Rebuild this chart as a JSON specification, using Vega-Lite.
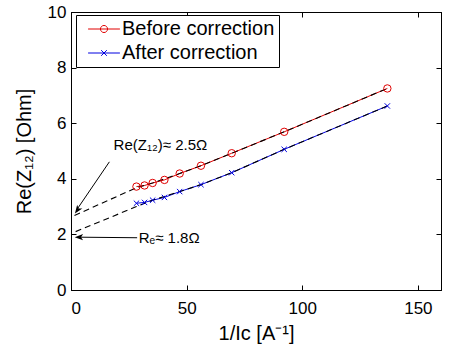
{
  "$schema": "https://vega.github.io/schema/vega-lite/v6.json",
  "autosize": "none",
  "width": 370,
  "height": 278,
  "padding": {"left": 71, "top": 12, "right": 15, "bottom": 57},
  "background": "white",
  "config": {
    "view": {"stroke": "black", "strokeWidth": 1},
    "font": "Liberation Sans",
    "axis": {
      "grid": false,
      "domainColor": "black",
      "tickColor": "black",
      "tickSize": -5,
      "labelFont": "Liberation Sans",
      "labelFontSize": 17,
      "labelColor": "black",
      "titleFont": "Liberation Sans",
      "titleFontSize": 20,
      "titleFontWeight": "normal",
      "titleColor": "black"
    },
    "legend": {
      "labelFont": "Liberation Sans",
      "labelFontSize": 20,
      "labelColor": "black",
      "labelLimit": 400
    }
  },
  "datasets": {
    "meas": [
      {"x": 28.3, "y": 3.72, "series": "Before correction"},
      {"x": 31.8, "y": 3.76, "series": "Before correction"},
      {"x": 35.3, "y": 3.85, "series": "Before correction"},
      {"x": 40.4, "y": 3.96, "series": "Before correction"},
      {"x": 47.0, "y": 4.19, "series": "Before correction"},
      {"x": 56.2, "y": 4.47, "series": "Before correction"},
      {"x": 69.5, "y": 4.92, "series": "Before correction"},
      {"x": 92.2, "y": 5.69, "series": "Before correction"},
      {"x": 136.8, "y": 7.25, "series": "Before correction"},
      {"x": 28.3, "y": 3.12, "series": "After correction"},
      {"x": 31.8, "y": 3.15, "series": "After correction"},
      {"x": 35.3, "y": 3.23, "series": "After correction"},
      {"x": 40.4, "y": 3.33, "series": "After correction"},
      {"x": 47.0, "y": 3.54, "series": "After correction"},
      {"x": 56.2, "y": 3.79, "series": "After correction"},
      {"x": 69.5, "y": 4.22, "series": "After correction"},
      {"x": 92.2, "y": 5.06, "series": "After correction"},
      {"x": 136.8, "y": 6.62, "series": "After correction"}
    ],
    "fit": [
      {"x": 1.5, "y": 2.68, "fit": "before"},
      {"x": 28.3, "y": 3.68, "fit": "before"},
      {"x": 35.3, "y": 3.85, "fit": "before"},
      {"x": 47.0, "y": 4.19, "fit": "before"},
      {"x": 56.2, "y": 4.47, "fit": "before"},
      {"x": 69.5, "y": 4.92, "fit": "before"},
      {"x": 92.2, "y": 5.69, "fit": "before"},
      {"x": 136.8, "y": 7.25, "fit": "before"},
      {"x": 2.0, "y": 2.1, "fit": "after"},
      {"x": 28.3, "y": 3.0, "fit": "after"},
      {"x": 35.3, "y": 3.23, "fit": "after"},
      {"x": 47.0, "y": 3.54, "fit": "after"},
      {"x": 56.2, "y": 3.79, "fit": "after"},
      {"x": 69.5, "y": 4.22, "fit": "after"},
      {"x": 92.2, "y": 5.06, "fit": "after"},
      {"x": 136.8, "y": 6.62, "fit": "after"}
    ],
    "arrows": [
      {"x": 16.6, "y": 4.61, "x2": 2.6, "y2": 2.9},
      {"x": 28.6, "y": 1.88, "x2": 3.2, "y2": 1.9}
    ],
    "heads": [
      {"x": 1.7, "y": 2.75, "angle": 215},
      {"x": 1.6, "y": 1.9, "angle": 270}
    ],
    "labels": [
      {"x": 18.4, "y": 5.2, "text": "Re(Z₁₂)≈ 2.5Ω"},
      {"x": 29.3, "y": 1.88, "text": "Rₑ≈ 1.8Ω"}
    ]
  },
  "resolve": {"axis": {"x": "independent", "y": "independent"}},
  "layer": [
    {
      "data": {"name": "meas"},
      "mark": {"type": "line", "strokeWidth": 1},
      "encoding": {
        "x": {"field": "x", "type": "quantitative", "scale": {"domain": [0, 150]},
              "axis": {"orient": "bottom", "values": [0, 50, 100, 150], "labelPadding": 15, "title": "1/Ic [A⁻¹]", "titlePadding": 7}},
        "y": {"field": "y", "type": "quantitative", "scale": {"domain": [0, 10]},
              "axis": {"orient": "left", "values": [0, 2, 4, 6, 8, 10], "labelPadding": 10, "title": "Re(Z₁₂) [Ohm]", "titlePadding": 13}},
        "color": {
          "field": "series", "type": "nominal",
          "scale": {"domain": ["Before correction", "After correction"], "range": ["#e00000", "#0000e0"]},
          "legend": {
            "title": null,
            "orient": "none",
            "legendX": 5,
            "legendY": 3,
            "direction": "vertical",
            "fillColor": "white",
            "strokeColor": "black",
            "padding": 4,
            "labelFont": "Liberation Sans",
            "labelFontSize": 20,
            "labelColor": "black",
            "symbolType": "M-4.5,0L4.5,0",
            "symbolSize": 50,
            "symbolOffset": 14,
            "labelOffset": 8,
            "rowPadding": 4,
            "symbolStrokeWidth": 1,
            "encode": {
              "symbols": {
                "update": {
                  "shape": {"signal": "datum.value == 'Before correction' ? 'M-4.5,0L4.5,0M-1,0A1,1 0 1,0 1,0A1,1 0 1,0 -1,0' : 'M-4.5,0L4.5,0M-0.8,-0.8L0.8,0.8M-0.8,0.8L0.8,-0.8'"},
                  "stroke": {"signal": "datum.value == 'Before correction' ? '#e00000' : '#0000e0'"},
                  "fill": {"value": "transparent"}
                }
              }
            }
          }
        }
      }
    },
    {
      "data": {"name": "fit"},
      "mark": {"type": "line", "color": "black", "strokeWidth": 1.1, "strokeDash": [6, 4]},
      "encoding": {
        "x": {"field": "x", "type": "quantitative",
              "axis": {"orient": "top", "values": [0, 50, 100, 150], "labels": false, "title": null}},
        "y": {"field": "y", "type": "quantitative",
              "axis": {"orient": "right", "values": [0, 2, 4, 6, 8, 10], "labels": false, "title": null}},
        "detail": {"field": "fit", "type": "nominal"}
      }
    },
    {
      "data": {"name": "meas"},
      "transform": [{"filter": "datum.series == 'Before correction'"}],
      "mark": {"type": "point", "shape": "circle", "filled": false, "color": "#e00000", "strokeWidth": 1, "size": 55, "opacity": 1},
      "encoding": {
        "x": {"field": "x", "type": "quantitative", "axis": null},
        "y": {"field": "y", "type": "quantitative", "axis": null}
      }
    },
    {
      "data": {"name": "meas"},
      "transform": [{"filter": "datum.series == 'After correction'"}],
      "mark": {"type": "point", "shape": "M-0.8,-0.8L0.8,0.8M-0.8,0.8L0.8,-0.8", "filled": false, "color": "#0000e0", "strokeWidth": 1, "size": 45, "opacity": 1},
      "encoding": {
        "x": {"field": "x", "type": "quantitative", "axis": null},
        "y": {"field": "y", "type": "quantitative", "axis": null}
      }
    },
    {
      "data": {"name": "arrows"},
      "mark": {"type": "rule", "color": "black", "strokeWidth": 1},
      "encoding": {
        "x": {"field": "x", "type": "quantitative", "axis": null},
        "y": {"field": "y", "type": "quantitative", "axis": null},
        "x2": {"field": "x2"},
        "y2": {"field": "y2"}
      }
    },
    {
      "data": {"name": "heads"},
      "mark": {"type": "point", "filled": true, "color": "black", "opacity": 1,
               "shape": "M0,0L0.6,1.6L0,1.2L-0.6,1.6Z", "size": 110},
      "encoding": {
        "x": {"field": "x", "type": "quantitative", "axis": null},
        "y": {"field": "y", "type": "quantitative", "axis": null},
        "angle": {"field": "angle", "type": "quantitative", "scale": null}
      }
    },
    {
      "data": {"name": "labels"},
      "mark": {"type": "text", "align": "left", "baseline": "middle", "font": "Liberation Sans", "fontSize": 15, "color": "black"},
      "encoding": {
        "x": {"field": "x", "type": "quantitative", "axis": null},
        "y": {"field": "y", "type": "quantitative", "axis": null},
        "text": {"field": "text"}
      }
    }
  ]
}
